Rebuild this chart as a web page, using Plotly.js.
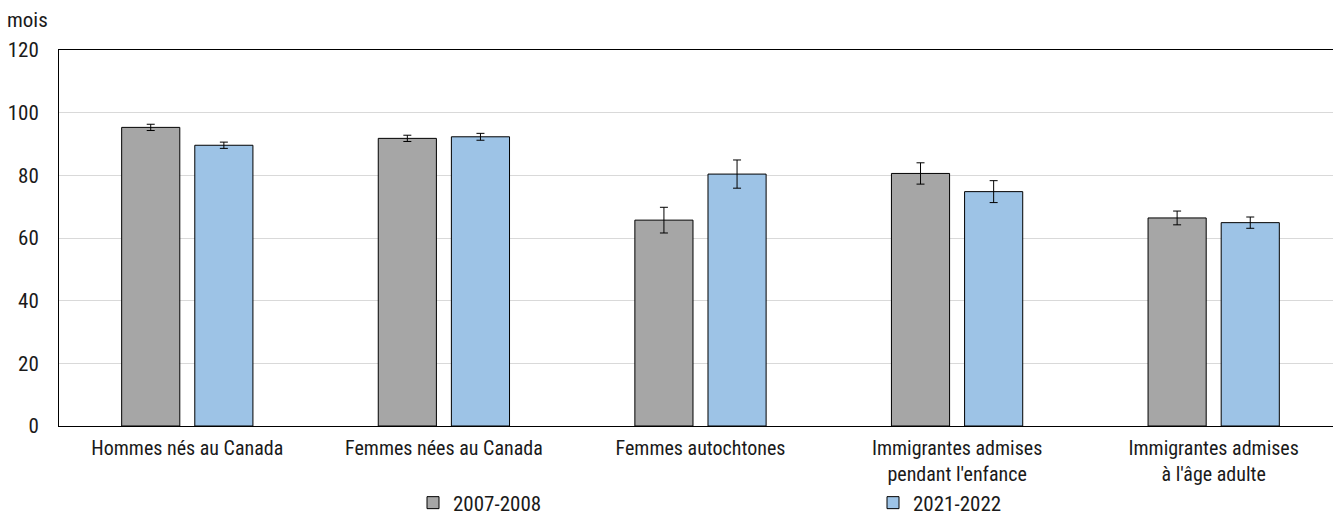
<!DOCTYPE html>
<html>
<head>
<meta charset="utf-8">
<script src="https://cdn.plot.ly/plotly-3.0.1.min.js"></script>
<style>
  html, body { margin: 0; padding: 0; background: #fff; }
  #chart { width: 1333px; height: 516px; }
</style>
</head>
<body>
<div id="chart"></div>
<script>
const categories = [
  "Hommes nés au Canada",
  "Femmes nées au Canada",
  "Femmes autochtones",
  "Immigrantes admises<br>pendant l'enfance",
  "Immigrantes admises<br>à l'âge adulte"
];
const seriesNames = ["2007-2008", "2021-2022"];
const values2007 = [95.3, 91.8, 65.7, 80.6, 66.4];
const err2007 = [1.0, 1.0, 4.1, 3.4, 2.2];
const values2021 = [89.6, 92.3, 80.4, 74.8, 64.9];
const err2021 = [1.0, 1.1, 4.5, 3.5, 1.8];
const yTicks = [0, 20, 40, 60, 80, 100, 120];

const FONT = "'Liberation Sans Narrow', 'Roboto Condensed', 'Arial Narrow', Roboto, sans-serif";
const TXT = '#1a1a1a';

function barTrace(name, vals, errs, color, legendId) {
  return {
    type: 'bar',
    name: name,
    legend: legendId,
    x: categories,
    y: vals,
    marker: { color: color, line: { color: '#000000', width: 1 } },
    error_y: { type: 'data', array: errs, visible: true, color: '#000000', thickness: 1, width: 4 },
    hoverinfo: 'x+y'
  };
}

const data = [
  barTrace(seriesNames[0], values2007, err2007, '#A6A6A6', 'legend'),
  barTrace(seriesNames[1], values2021, err2021, '#9DC3E6', 'legend2')
];

function legendAt(xPx) {
  return {
    orientation: 'h',
    xref: 'container', yref: 'container',
    x: xPx / 1333,
    xanchor: 'left',
    y: (516 - 503) / 516,
    yanchor: 'middle',
    itemwidth: 30,
    borderwidth: 0,
    font: { family: FONT, size: 21, color: TXT },
    bgcolor: 'rgba(0,0,0,0)'
  };
}

const layout = {
  width: 1333,
  height: 516,
  margin: { l: 59, r: 0, t: 50, b: 90 },
  paper_bgcolor: '#ffffff',
  plot_bgcolor: '#ffffff',
  font: { family: FONT, size: 20, color: TXT },
  barmode: 'group',
  bargap: 0.43,
  bargroupgap: 0.205,
  showlegend: true,
  legend: legendAt(413),
  legend2: legendAt(873),
  xaxis: {
    type: 'category',
    range: [-0.5, 4.465],
    showline: true,
    linecolor: '#000000',
    linewidth: 1,
    mirror: true,
    ticks: '',
    ticklabelstandoff: 4,
    showgrid: false,
    tickfont: { family: FONT, size: 20, color: TXT },
    automargin: false
  },
  yaxis: {
    range: [0, 120],
    tickvals: yTicks,
    ticktext: yTicks.map(String),
    showline: true,
    linecolor: '#000000',
    linewidth: 1,
    ticks: '',
    ticklabelstandoff: 15,
    showgrid: true,
    gridcolor: '#D9D9D9',
    gridwidth: 1,
    zeroline: false,
    tickfont: { family: FONT, size: 21, color: TXT },
    automargin: false
  },
  annotations: [
    {
      text: 'mois',
      xref: 'paper', yref: 'paper',
      x: -0.0425, y: 1.0,
      xanchor: 'left', yanchor: 'middle',
      yshift: 30,
      showarrow: false,
      font: { family: FONT, size: 21, color: TXT }
    }
  ]
};

Plotly.newPlot('chart', data, layout, { displayModeBar: false, staticPlot: true });
</script>
</body>
</html>
